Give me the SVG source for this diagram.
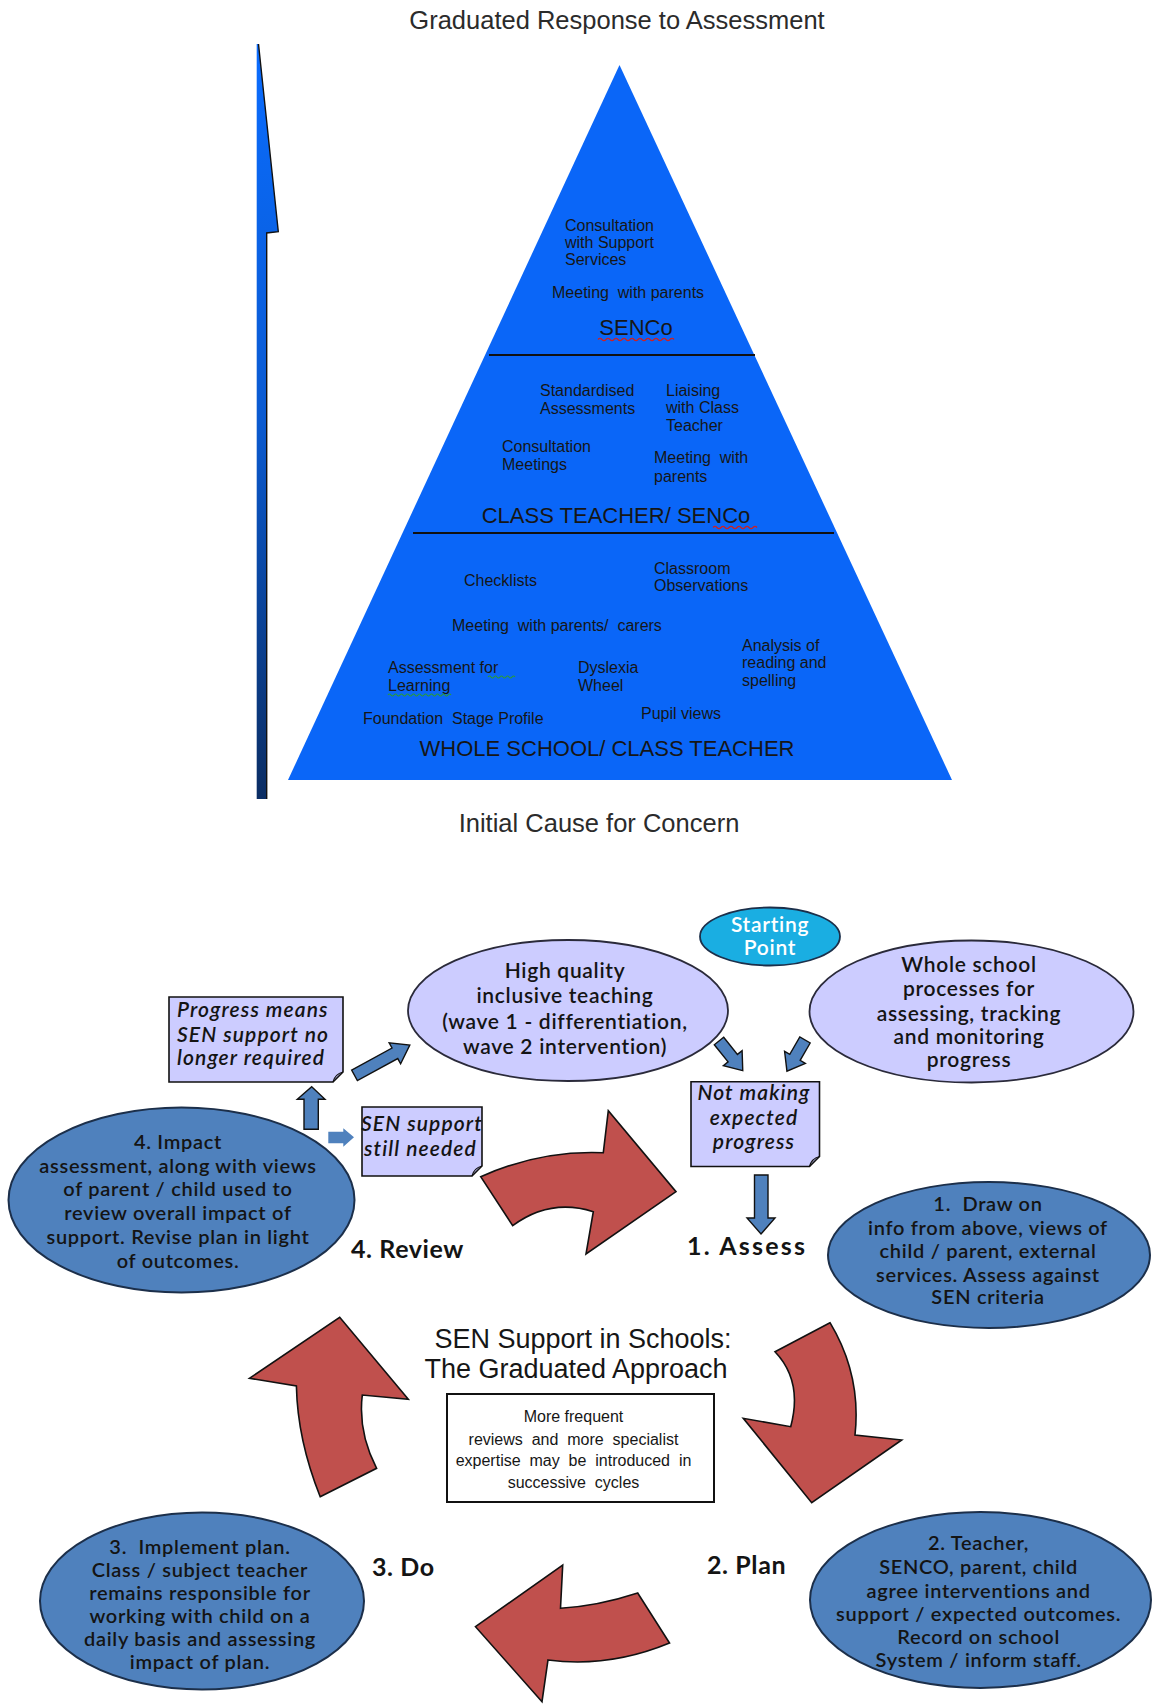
<svg xmlns="http://www.w3.org/2000/svg" width="1152" height="1704" viewBox="0 0 1152 1704">
<defs>
<linearGradient id="barGrad" x1="0" y1="0" x2="0" y2="1">
<stop offset="0" stop-color="#0a6cff"/>
<stop offset="0.5" stop-color="#0a5ad0"/>
<stop offset="1" stop-color="#0b2d63"/>
</linearGradient>
<style>
text{white-space:pre}
.ar{font-family:"Liberation Sans",Arial,sans-serif;fill:#161616}
.pt{font-size:16px}
.pl{font-size:22px;text-anchor:middle}
.ttl{font-size:25.5px;fill:#2b2b2b;text-anchor:middle}
.cal{font-family:Lato,"Noto Sans",sans-serif;font-weight:600;font-size:20px;fill:#141414;text-anchor:middle;letter-spacing:0.7px}
.it{font-style:italic;font-size:21px;letter-spacing:1.1px}
.lbl{font-family:Lato,"Noto Sans",sans-serif;font-weight:700;font-size:25px;fill:#141414;letter-spacing:0.6px}
.red{fill:#c0504d;stroke:#111;stroke-width:1.6;stroke-linejoin:miter}
.blu{fill:#4f81bd;stroke:#111;stroke-width:1.4}
.ell{fill:#4f81bd;stroke:#1c2f4a;stroke-width:2}
.lav{fill:#ccccff;stroke:#2a2a3a;stroke-width:1.8}
.note{fill:#ccccff;stroke:#111;stroke-width:1.6}
.wav{fill:none;stroke-width:1.2}
</style>
</defs>
<rect width="1152" height="1704" fill="#ffffff"/>

<g id="title-top">
<text class="ar ttl" x="617" y="29">Graduated Response to Assessment</text>
</g>

<g id="side-arrow">
<path d="M256.7,44 L258.5,44 L278.3,231.7 L266.7,233 L266.7,799 L256.7,799 Z" fill="url(#barGrad)"/>
<path d="M258.5,44 L278.3,231.7 L266.7,233 L266.7,799" fill="none" stroke="#111" stroke-width="1.4"/>
</g>

<g id="pyramid">
<polygon points="619.5,65 952,780 288,780" fill="#0a66f8"/>
<line x1="489" y1="355" x2="755" y2="355" stroke="#111" stroke-width="2"/>
<line x1="413" y1="533" x2="834" y2="533" stroke="#111" stroke-width="2"/>
</g>

<g id="tier-senco">
<text class="ar pt" x="565" y="230.5">Consultation</text>
<text class="ar pt" x="565" y="247.5">with Support</text>
<text class="ar pt" x="565" y="264.5">Services</text>
<text class="ar pt" x="552" y="297.5">Meeting  with parents</text>
<text class="ar pl" x="636" y="334.5">SENCo</text>
<path class="wav" stroke="#d02020" d="M598,339.5 q2,-2.2 4,0 t4,0 t4,0 t4,0 t4,0 t4,0 t4,0 t4,0 t4,0 t4,0 t4,0 t4,0 t4,0 t4,0 t4,0 t4,0 t4,0 t4,0 t4,0"/>
</g>

<g id="tier-class-teacher-senco">
<text class="ar pt" x="540" y="395.5">Standardised</text>
<text class="ar pt" x="540" y="413.5">Assessments</text>
<text class="ar pt" x="666" y="395.5">Liaising</text>
<text class="ar pt" x="666" y="413">with Class</text>
<text class="ar pt" x="666" y="430.5">Teacher</text>
<text class="ar pt" x="502" y="451.5">Consultation</text>
<text class="ar pt" x="502" y="469.5">Meetings</text>
<text class="ar pt" x="654" y="462.5">Meeting  with</text>
<text class="ar pt" x="654" y="481.5">parents</text>
<text class="ar pl" x="616" y="522.5">CLASS TEACHER/ SENCo</text>
<path class="wav" stroke="#d02020" d="M713,527.5 q2,-2.2 4,0 t4,0 t4,0 t4,0 t4,0 t4,0 t4,0 t4,0 t4,0 t4,0 t4,0"/>
</g>

<g id="tier-whole-school">
<text class="ar pt" x="464" y="585.5">Checklists</text>
<text class="ar pt" x="654" y="573.5">Classroom</text>
<text class="ar pt" x="654" y="591">Observations</text>
<text class="ar pt" x="452" y="630.5">Meeting  with parents/  carers</text>
<text class="ar pt" x="742" y="650.5">Analysis of</text>
<text class="ar pt" x="742" y="667.5">reading and</text>
<text class="ar pt" x="742" y="685.5">spelling</text>
<text class="ar pt" x="388" y="672.5">Assessment for</text>
<text class="ar pt" x="388" y="690.5">Learning</text>
<path class="wav" stroke="#2a9a3a" d="M488,677 q1.5,-2 3,0 t3,0 t3,0 t3,0 t3,0 t3,0 t3,0 t3,0 t3,0"/>
<path class="wav" stroke="#2a9a3a" d="M388,695 q1.5,-2 3,0 t3,0 t3,0 t3,0 t3,0 t3,0 t3,0 t3,0 t3,0 t3,0 t3,0 t3,0 t3,0 t3,0 t3,0 t3,0 t3,0 t3,0 t3,0 t3,0 t3,0"/>
<text class="ar pt" x="578" y="672.5">Dyslexia</text>
<text class="ar pt" x="578" y="690.5">Wheel</text>
<text class="ar pt" x="363" y="723.5">Foundation  Stage Profile</text>
<text class="ar pt" x="641" y="718.5">Pupil views</text>
<text class="ar pl" x="607" y="755.5">WHOLE SCHOOL/ CLASS TEACHER</text>
</g>

<g id="title-bottom">
<text class="ar ttl" x="599" y="832">Initial Cause for Concern</text>
</g>

<g id="connectors">
<path id="red-review-assess" class="red" d="M480.7,1176.7 Q540,1150 603.3,1152.7 L608.3,1110.7 L676,1191.7 L586,1254 L593.3,1211.7 Q550,1198 512.7,1225.7 Z"/>
<path id="red-assess-plan" class="red" d="M830,1322.7 L775,1351.7 Q803,1381 790.7,1426.7 L743.3,1418.3 L811.7,1502.7 L901.7,1440 L855,1435 Q861.5,1375 830,1322.7 Z"/>
<path id="red-plan-do" class="red" d="M669.5,1643 L637.7,1593 Q598,1606 560.5,1608.3 L562.7,1565 L475.5,1626.7 L542,1701.7 L548,1660 Q609,1668 669.5,1643 Z"/>
<path id="red-do-review" class="red" d="M320.2,1496.7 L376.6,1468.3 Q357.8,1431.7 362.3,1395 L408.3,1399.3 L339.7,1317.3 L249.5,1378.3 L296.4,1386 Q297.5,1440 320.2,1496.7 Z"/>
<polygon id="arrow-up-progress" class="blu" points="311.7,1086.7 325,1099.3 318.3,1099.3 318.3,1129.3 304,1129.3 304,1099.3 297.3,1099.3"/>
<polygon id="arrow-right-still" fill="#4f81bd" points="328.3,1131.7 343.3,1131.7 343.3,1128.3 354,1137.3 343.3,1146.7 343.3,1143.3 328.3,1143.3"/>
<polygon id="arrow-progress-teaching" class="blu" transform="translate(354.5,1075.3) rotate(-28.6)" points="0,-6 46,-6 46,-12 63,0 46,12 46,6 0,6"/>
<polygon id="arrow-teaching-notmaking" class="blu" transform="translate(719,1041) rotate(51.3)" points="0,-6 22,-6 22,-12 38,0 22,12 22,6 0,6"/>
<polygon id="arrow-whole-notmaking" class="blu" transform="translate(805,1040) rotate(120.1)" points="0,-6 20,-6 20,-12 36,0 20,12 20,6 0,6"/>
<polygon id="arrow-notmaking-assess" class="blu" points="754.5,1175 768,1175 768,1218 775,1218 761,1234 747,1218 754.5,1218"/>
</g>

<g id="node-starting-point">
<ellipse cx="770" cy="936.5" rx="70" ry="29" fill="#1aaee2" stroke="#1c2f4a" stroke-width="1.8"/>
<text class="cal" x="770" y="932" style="fill:#ffffff;font-size:21px">Starting</text>
<text class="cal" x="770" y="955" style="fill:#ffffff;font-size:21px">Point</text>
</g>

<g id="node-high-quality">
<ellipse class="lav" cx="568" cy="1010.5" rx="160" ry="70.5"/>
<text class="cal" x="565" y="977.5" style="font-size:21px">High quality</text>
<text class="cal" x="565" y="1002.5" style="font-size:21px">inclusive teaching</text>
<text class="cal" x="565" y="1028.5" style="font-size:21px">(wave 1 - differentiation,</text>
<text class="cal" x="565" y="1053.5" style="font-size:21px">wave 2 intervention)</text>
</g>

<g id="node-whole-school">
<ellipse class="lav" cx="971.5" cy="1011.5" rx="162" ry="71"/>
<text class="cal" x="969" y="972" style="font-size:21px">Whole school</text>
<text class="cal" x="969" y="996" style="font-size:21px">processes for</text>
<text class="cal" x="969" y="1021" style="font-size:21px">assessing, tracking</text>
<text class="cal" x="969" y="1043.7" style="font-size:21px">and monitoring</text>
<text class="cal" x="969" y="1067" style="font-size:21px">progress</text>
</g>

<g id="node-progress-means">
<path class="note" d="M169,997 H343 V1072 L333,1082 H169 Z"/>
<path d="M333,1082 Q335,1074 343,1072" fill="none" stroke="#111" stroke-width="1.2"/>
<text class="cal it" x="177" y="1017" style="text-anchor:start">Progress means</text>
<text class="cal it" x="177" y="1041.5" style="text-anchor:start">SEN support no</text>
<text class="cal it" x="177" y="1065" style="text-anchor:start">longer required</text>
</g>

<g id="node-still-needed">
<path class="note" d="M362,1107 H482 V1166 L472,1176 H362 Z"/>
<path d="M472,1176 Q474,1168 482,1166" fill="none" stroke="#111" stroke-width="1.2"/>
<text class="cal it" x="361" y="1130.5" style="text-anchor:start">SEN support</text>
<text class="cal it" x="364" y="1156" style="text-anchor:start">still needed</text>
</g>

<g id="node-not-making">
<path class="note" d="M691,1081.7 H819.5 V1156.5 L809.5,1166.5 H691 Z"/>
<path d="M809.5,1166.5 Q811.5,1158.5 819.5,1156.5" fill="none" stroke="#111" stroke-width="1.2"/>
<text class="cal it" x="754" y="1100">Not making</text>
<text class="cal it" x="754" y="1124.5">expected</text>
<text class="cal it" x="754" y="1148.5">progress</text>
</g>

<g id="node-review">
<ellipse class="ell" cx="181.5" cy="1200" rx="173" ry="92.5"/>
<text class="cal" x="178" y="1149">4. Impact</text>
<text class="cal" x="178" y="1172.7">assessment, along with views</text>
<text class="cal" x="178" y="1196.4">of parent / child used to</text>
<text class="cal" x="178" y="1220.1">review overall impact of</text>
<text class="cal" x="178" y="1243.8">support. Revise plan in light</text>
<text class="cal" x="178" y="1267.5">of outcomes.</text>
<text class="lbl" x="351" y="1258">4. Review</text>
</g>

<g id="node-assess">
<ellipse class="ell" cx="989" cy="1255" rx="161" ry="73"/>
<text class="cal" x="988" y="1211">1.  Draw on</text>
<text class="cal" x="988" y="1235">info from above, views of</text>
<text class="cal" x="988" y="1258">child / parent, external</text>
<text class="cal" x="988" y="1282">services. Assess against</text>
<text class="cal" x="988" y="1304">SEN criteria</text>
<text class="lbl" x="687" y="1255" style="letter-spacing:2.2px">1. Assess</text>
</g>

<g id="center-title">
<text class="ar" x="583" y="1348" style="font-size:27px;text-anchor:middle">SEN Support in Schools:</text>
<text class="ar" x="576" y="1378" style="font-size:27px;text-anchor:middle">The Graduated Approach</text>
</g>

<g id="node-center-box">
<rect x="447" y="1394" width="267" height="108" fill="#ffffff" stroke="#111" stroke-width="2"/>
<text class="ar pt" x="573.5" y="1422" style="text-anchor:middle">More frequent</text>
<text class="ar pt" x="573.5" y="1444.5" style="text-anchor:middle">reviews  and  more  specialist</text>
<text class="ar pt" x="573.5" y="1466" style="text-anchor:middle">expertise  may  be  introduced  in</text>
<text class="ar pt" x="573.5" y="1487.5" style="text-anchor:middle">successive  cycles</text>
</g>

<g id="node-do">
<ellipse class="ell" cx="202" cy="1601" rx="162" ry="88.5"/>
<text class="cal" x="200" y="1553.7">3.  Implement plan.</text>
<text class="cal" x="200" y="1577">Class / subject teacher</text>
<text class="cal" x="200" y="1599.7">remains responsible for</text>
<text class="cal" x="200" y="1623">working with child on a</text>
<text class="cal" x="200" y="1646">daily basis and assessing</text>
<text class="cal" x="200" y="1668.7">impact of plan.</text>
<text class="lbl" x="372" y="1576">3. Do</text>
</g>

<g id="node-plan">
<ellipse class="ell" cx="980.5" cy="1600" rx="170.5" ry="88"/>
<text class="cal" x="978.6" y="1550.3">2. Teacher,</text>
<text class="cal" x="978.6" y="1574">SENCO, parent, child</text>
<text class="cal" x="978.6" y="1597.7">agree interventions and</text>
<text class="cal" x="978.6" y="1621">support / expected outcomes.</text>
<text class="cal" x="978.6" y="1643.7">Record on school</text>
<text class="cal" x="978.6" y="1667">System / inform staff.</text>
<text class="lbl" x="707" y="1574">2. Plan</text>
</g>
</svg>
